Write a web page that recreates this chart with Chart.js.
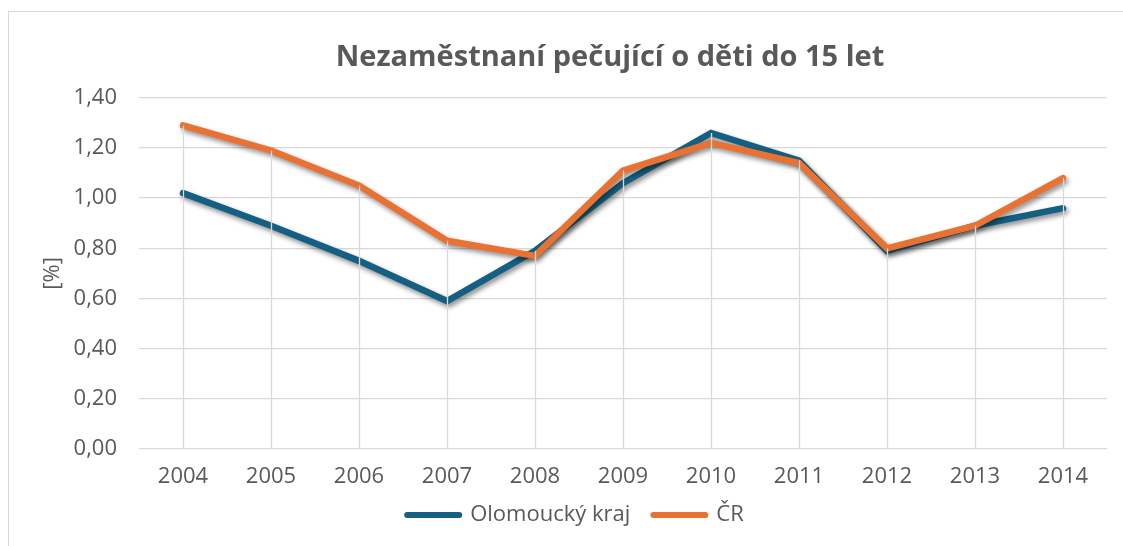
<!DOCTYPE html>
<html><head><meta charset="utf-8">
<script src="https://cdn.jsdelivr.net/npm/chart.js@4.4.1/dist/chart.umd.min.js"></script>
<style>
html,body{margin:0;padding:0;background:#fff;overflow:hidden;width:1123px;height:546px;}
#frame{position:absolute;left:8px;top:11px;width:1202px;height:560px;border:1px solid #d9d9d9;background:#fff;}
canvas{display:block;}
</style></head><body>
<div id="frame"><canvas id="c" width="1202" height="560"></canvas></div>
<script>
const categories = ['2004','2005','2006','2007','2008','2009','2010','2011','2012','2013','2014'];
const olomouckyKraj = [1.02, 0.89, 0.75, 0.59, 0.79, 1.06, 1.26, 1.15, 0.79, 0.89, 0.96];
const cr = [1.29, 1.19, 1.05, 0.83, 0.77, 1.11, 1.22, 1.14, 0.80, 0.89, 1.08];
const seriesNames = ['Olomoucký kraj', 'ČR'];
const yTickValues = [0, 0.2, 0.4, 0.6, 0.8, 1.0, 1.2, 1.4];
const yTickLabels = ['0,00', '0,20', '0,40', '0,60', '0,80', '1,00', '1,20', '1,40'];
const chartTitle = 'Nezaměstnaní pečující o děti do 15 let';
const yAxisTitle = '[%]';

const TEXT = '#595959';
const GRID = '#d9d9d9';
const FONT = "'Open Sans', sans-serif";

const shadowPlugin = {
  id: 'shadow',
  beforeDatasetDraw(chart) {
    const ctx = chart.ctx;
    ctx.save();
    ctx.shadowColor = 'rgba(0,0,0,0.45)';
    ctx.shadowBlur = 5;
    ctx.shadowOffsetX = 2;
    ctx.shadowOffsetY = 3;
  },
  afterDatasetDraw(chart) { chart.ctx.restore(); }
};

const dropLines = {
  id: 'dropLines',
  afterDatasetsDraw(chart) {
    const ctx = chart.ctx, xs = chart.scales.x, ys = chart.scales.y;
    ctx.save();
    ctx.strokeStyle = GRID;
    ctx.lineWidth = 1.3;
    categories.forEach((c, i) => {
      const top = Math.min(...chart.data.datasets.map(d => ys.getPixelForValue(d.data[i])));
      const px = Math.round(xs.getPixelForValue(i)) + 0.5;
      ctx.beginPath();
      ctx.moveTo(px, top);
      ctx.lineTo(px, ys.getPixelForValue(0));
      ctx.stroke();
    });
    ctx.restore();
  }
};

const boxShift = {
  id: 'boxShift',
  afterLayout(chart) {
    const C = 566.5;
    const lg = chart.legend;
    const h = lg.bottom - lg.top;
    lg.left = C - 450;
    lg.right = C + 450;
    lg.top = 469;
    lg.bottom = 469 + h;
    chart.titleBlock.left = 0;
    chart.titleBlock.right = chart.width;
  }
};

new Chart(document.getElementById('c'), {
  type: 'line',
  data: {
    labels: categories,
    datasets: [
      { label: seriesNames[0], data: olomouckyKraj, borderColor: '#156082', backgroundColor: '#156082',
        borderWidth: 6.5, pointRadius: 0, borderCapStyle: 'round', borderJoinStyle: 'miter', tension: 0, order: 1 },
      { label: seriesNames[1], data: cr, borderColor: '#E97132', backgroundColor: '#E97132',
        borderWidth: 6.5, pointRadius: 0, borderCapStyle: 'round', borderJoinStyle: 'miter', tension: 0, order: 0 }
    ]
  },
  options: {
    responsive: false,
    animation: false,
    layout: { padding: { left: 0, right: 104, top: 0, bottom: 23 } },
    plugins: {
      tooltip: { enabled: false },
      title: {
        display: true, text: chartTitle, color: TEXT,
        font: { family: FONT, size: 29, weight: 'bold' },
        padding: { top: 28, bottom: 23 }
      },
      legend: {
        position: 'bottom',
        labels: {
          color: TEXT, font: { family: FONT, size: 22 },
          usePointStyle: true, pointStyleWidth: 52, boxHeight: 6, padding: 23,
          generateLabels: (chart) => chart.data.datasets.map((ds, i) => ({
            text: ds.label, fillStyle: ds.borderColor, strokeStyle: ds.borderColor,
            lineWidth: 6, lineCap: 'round', pointStyle: 'line', hidden: false,
            datasetIndex: i, fontColor: TEXT
          }))
        }
      }
    },
    scales: {
      x: {
        offset: true,
        grid: { display: false, offset: false },
        border: { display: false },
        ticks: { color: TEXT, font: { family: FONT, size: 22 }, padding: 7, maxRotation: 0 },
        afterFit(s) { s.height = 45; }
      },
      y: {
        min: 0, max: 1.4,
        afterBuildTicks(s) { s.ticks = yTickValues.map(v => ({ value: v })); },
        grid: { color: GRID, lineWidth: 1.3, drawTicks: false },
        border: { display: false },
        ticks: {
          color: TEXT, font: { family: FONT, size: 22 }, padding: 22,
          callback: (v) => yTickLabels[yTickValues.findIndex(t => Math.abs(t - v) < 1e-9)]
        },
        title: { display: true, text: yAxisTitle, color: TEXT, font: { family: FONT, size: 22 }, padding: { top: 31 } },
        afterFit(s) { s.width = 130; }
      }
    }
  },
  plugins: [shadowPlugin, dropLines, boxShift]
});
</script>
</body></html>
